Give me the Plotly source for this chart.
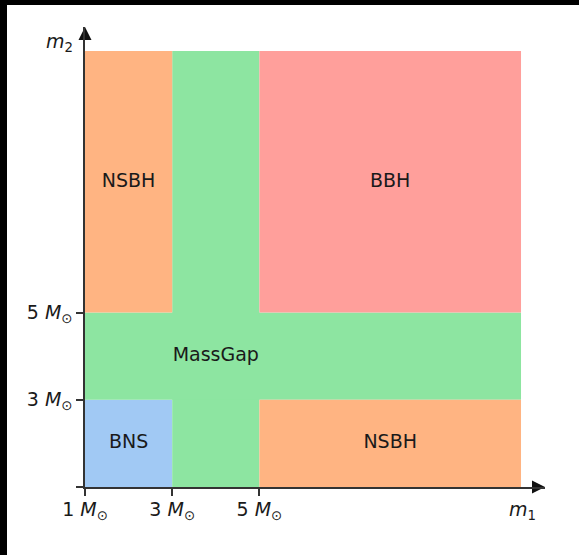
import plotly.graph_objects as go

# ---- data ----
region_names = ["BNS", "MassGap", "MassGap", "NSBH", "NSBH", "BBH"]
region_x0 = [1, 3, 1, 1, 5, 5]
region_x1 = [3, 5, 11, 3, 11, 11]
region_y0 = [1, 1, 3, 5, 1, 5]
region_y1 = [3, 11, 5, 11, 3, 11]
region_colors = {"BNS": "#a1c9f4", "MassGap": "#8de5a1", "NSBH": "#ffb482", "BBH": "#ff9f9b"}

label_text = ["NSBH", "BBH", "MassGap", "BNS", "NSBH"]
label_x = [2, 8, 4, 2, 8]
label_y = [8, 8, 4, 2, 2]

tick_vals = [1, 3, 5]
x_tick_text = ["1 <i>M</i><sub>⊙</sub>", "3 <i>M</i><sub>⊙</sub>", "5 <i>M</i><sub>⊙</sub>"]
y_tick_text = ["", "3 <i>M</i><sub>⊙</sub>", "5 <i>M</i><sub>⊙</sub>"]

axis_min = 1
axis_max = 11.55

FONT = "DejaVu Sans"
FS = 19
W, H = 579, 555
L, R, T, B = 85, 34, 27, 68
PW, PH = W - L - R, H - T - B
AX = "#333333"
TXT = "#1a1a1a"

fig = go.Figure()

for n, x0, x1, y0, y1 in zip(region_names, region_x0, region_x1, region_y0, region_y1):
    fig.add_shape(type="rect", xref="x", yref="y", x0=x0, x1=x1, y0=y0, y1=y1,
                  fillcolor=region_colors[n], line=dict(width=0), layer="below")

fig.add_trace(go.Scatter(x=label_x, y=label_y, text=label_text, mode="text",
                         textfont=dict(family=FONT, size=FS, color=TXT),
                         hoverinfo="skip", showlegend=False))

# axis arrowheads
fig.add_trace(go.Scatter(x=[axis_max], y=[axis_min], mode="markers",
                         marker=dict(symbol="arrow-right", size=13, color="#111111", line=dict(width=0)),
                         cliponaxis=False, hoverinfo="skip", showlegend=False))
fig.add_trace(go.Scatter(x=[axis_min], y=[axis_max], mode="markers",
                         marker=dict(symbol="arrow-up", size=13, color="#111111", line=dict(width=0)),
                         cliponaxis=False, hoverinfo="skip", showlegend=False))

# black frame on top and left edges
def px(p):
    return (p - L) / PW

def py(p):
    return (H - B - p) / PH

fig.add_shape(type="rect", xref="paper", yref="paper", x0=px(0), x1=px(7), y0=py(H), y1=py(0),
              fillcolor="black", line=dict(width=0), layer="above")
fig.add_shape(type="rect", xref="paper", yref="paper", x0=px(0), x1=px(W), y0=py(5), y1=py(0),
              fillcolor="black", line=dict(width=0), layer="above")

fig.add_annotation(xref="paper", yref="paper", x=px(522), y=py(510), text="<i>m</i><sub>1</sub>",
                   xanchor="center", yanchor="middle",
                   showarrow=False, font=dict(family=FONT, size=FS, color=TXT))
fig.add_annotation(xref="paper", yref="paper", x=px(59), y=py(42), text="<i>m</i><sub>2</sub>",
                   xanchor="center", yanchor="middle",
                   showarrow=False, font=dict(family=FONT, size=FS, color=TXT))

axis_common = dict(range=[axis_min, axis_max], showgrid=False, zeroline=False,
                   showline=True, linecolor=AX, linewidth=1.5,
                   ticks="outside", ticklen=7, tickwidth=1.5, tickcolor=AX,
                   tickvals=tick_vals,
                   tickfont=dict(family=FONT, size=FS, color=TXT),
                   fixedrange=True)

fig.update_layout(
    width=W, height=H,
    margin=dict(l=L, r=R, t=T, b=B),
    paper_bgcolor="white", plot_bgcolor="white",
    xaxis=dict(axis_common, ticktext=x_tick_text, ticklabelstandoff=-3),
    yaxis=dict(axis_common, ticktext=y_tick_text),
    showlegend=False,
)

fig.write_html("out.html", config={"displayModeBar": False},
               post_script="document.body.style.margin='0';document.body.style.overflow='hidden';")
